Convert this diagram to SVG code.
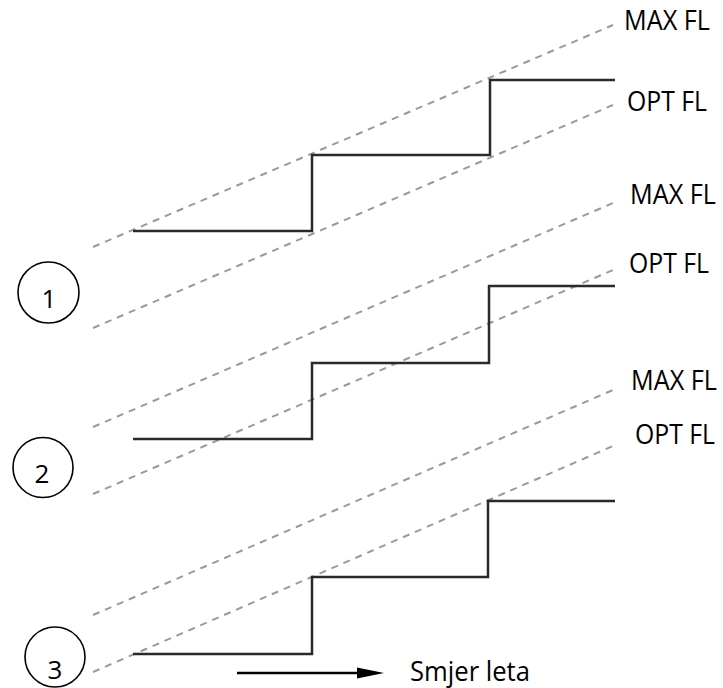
<svg xmlns="http://www.w3.org/2000/svg" width="723" height="688" viewBox="0 0 723 688">
<defs>
<style>
.dash{stroke:#9a9a9a;stroke-width:2;stroke-dasharray:7 6;fill:none}
.step{stroke:#2a2a2a;stroke-width:2.5;fill:none;stroke-linejoin:miter}
.circ{stroke:#000;stroke-width:1.6;fill:none}
.lbl{font-family:"Open Sans","Liberation Sans",sans-serif;font-size:27px;fill:#000}
.num{font-family:"Open Sans","Liberation Sans",sans-serif;font-size:26px;fill:#000;text-anchor:middle}
</style>
</defs>
<rect width="723" height="688" fill="#fff"/>
<g id="connectors">
<line class="dash" x1="93" y1="247" x2="613" y2="25"/>
<line class="dash" x1="93" y1="328" x2="613" y2="105"/>
<line class="dash" x1="93" y1="427" x2="613" y2="203"/>
<line class="dash" x1="93" y1="494" x2="613" y2="270"/>
<line class="dash" x1="93" y1="615" x2="613" y2="390"/>
<line class="dash" x1="93" y1="672" x2="613" y2="446"/>
<path class="step" d="M133,231 H312 V155 H490 V80 H615"/>
<path class="step" d="M133,439 H312 V363 H489 V286 H615"/>
<path class="step" d="M133,654 H312 V577 H488 V501 H615"/>
<line x1="237" y1="673" x2="360" y2="673" stroke="#000" stroke-width="2.5"/>
<path d="M357,667.5 L384,673 L357,678.5 Z" fill="#000"/>
</g>
<g id="labels">
<text class="lbl" x="624" y="30" textLength="86" lengthAdjust="spacingAndGlyphs">MAX FL</text>
<text class="lbl" x="627" y="111" textLength="80" lengthAdjust="spacingAndGlyphs">OPT FL</text>
<text class="lbl" x="630" y="204" textLength="86" lengthAdjust="spacingAndGlyphs">MAX FL</text>
<text class="lbl" x="629" y="273" textLength="80" lengthAdjust="spacingAndGlyphs">OPT FL</text>
<text class="lbl" x="631" y="390" textLength="86" lengthAdjust="spacingAndGlyphs">MAX FL</text>
<text class="lbl" x="635" y="444" textLength="80" lengthAdjust="spacingAndGlyphs">OPT FL</text>
<text class="lbl" x="410" y="681" textLength="120" lengthAdjust="spacingAndGlyphs">Smjer leta</text>
</g>
<g id="node1">
<circle class="circ" cx="48.5" cy="292.5" r="30.5"/>
<text class="num" x="49" y="308">1</text>
</g>
<g id="node2">
<circle class="circ" cx="43" cy="467.5" r="30"/>
<text class="num" x="42" y="483">2</text>
</g>
<g id="node3">
<circle class="circ" cx="55" cy="657" r="30"/>
<text class="num" x="55" y="679">3</text>
</g>
</svg>
